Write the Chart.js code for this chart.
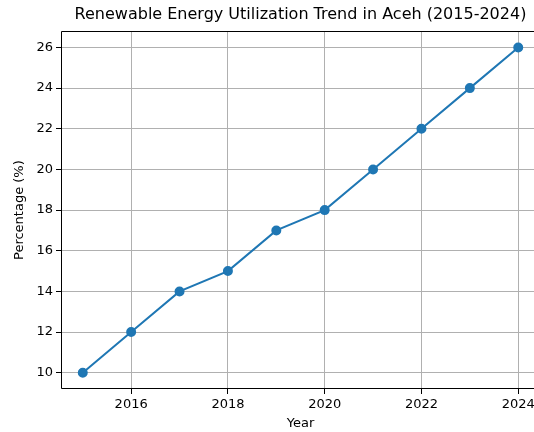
<!DOCTYPE html>
<html>
<head>
<meta charset="utf-8">
<script src="https://cdn.jsdelivr.net/npm/chart.js@4.4.0/dist/chart.umd.min.js"></script>
<style>
  html, body { margin: 0; padding: 0; overflow: hidden; background: #fff; }
  #wrap { width: 534px; height: 432px; }
</style>
</head>
<body>
<div id="wrap"><canvas id="chart" width="534" height="432"></canvas></div>
<script>
// data
const years = [2015, 2016, 2017, 2018, 2019, 2020, 2021, 2022, 2023, 2024];
const percentages = [10, 12, 14, 15, 17, 18, 20, 22, 24, 26];
const xTickValues = [2016, 2018, 2020, 2022, 2024];
const yTickValues = [10, 12, 14, 16, 18, 20, 22, 24, 26];

const titleText = 'Renewable Energy Utilization Trend in Aceh (2015-2024)';
const FONT = "'DejaVu Sans', sans-serif";
const AXES_RIGHT = 540; // the axes run past the right edge of the picture

// stretch the plot area past the canvas edge, like the cropped original
const stretch = {
  id: 'stretch',
  afterLayout(chart) {
    const x = chart.scales.x;
    chart.chartArea.right = AXES_RIGHT;
    chart.chartArea.width = AXES_RIGHT - chart.chartArea.left;
    x.right = AXES_RIGHT;
    x.width = x.right - x.left;
    x.configure();
    if (chart.titleBlock) {
      chart.titleBlock.left = chart.chartArea.left;
      chart.titleBlock.right = AXES_RIGHT;
      chart.titleBlock.width = AXES_RIGHT - chart.chartArea.left;
    }
  }
};

// matplotlib-like spines (the right one falls outside the picture)
const frame = {
  id: 'frame',
  afterDatasetsDraw(chart) {
    const { ctx, chartArea: a } = chart;
    const l = Math.round(a.left) + 0.5, t = Math.round(a.top) + 0.5, b = Math.round(a.bottom) - 0.5;
    ctx.save();
    ctx.strokeStyle = '#000';
    ctx.lineWidth = 1;
    ctx.beginPath();
    ctx.moveTo(AXES_RIGHT, t);
    ctx.lineTo(l, t);
    ctx.lineTo(l, b);
    ctx.lineTo(AXES_RIGHT, b);
    ctx.stroke();
    ctx.restore();
  }
};

new Chart(document.getElementById('chart'), {
  type: 'line',
  data: {
    datasets: [{
      data: years.map((y, i) => ({ x: y, y: percentages[i] })),
      borderColor: '#1f77b4',
      backgroundColor: '#1f77b4',
      borderWidth: 2,
      pointRadius: 4,
      pointHoverRadius: 4,
      tension: 0
    }]
  },
  options: {
    responsive: false,
    animation: false,
    events: [],
    layout: { padding: 0 },
    plugins: {
      legend: { display: false },
      tooltip: { enabled: false },
      title: {
        display: true,
        text: titleText,
        fullSize: false,
        color: '#000',
        font: { family: FONT, size: 16, weight: 'normal' },
        padding: { top: 5, bottom: 7 }
      }
    },
    scales: {
      x: {
        type: 'linear',
        min: 2014.55,
        max: 2024.45,
        afterBuildTicks: s => { s.ticks = xTickValues.map(v => ({ value: v })); },
        afterFit: s => { s.height = 43; },
        ticks: {
          color: '#000',
          font: { family: FONT, size: 13 },
          padding: 3,
          maxRotation: 0,
          autoSkip: false,
          callback: v => String(v)
        },
        grid: { color: '#b0b0b0', tickColor: '#000', tickLength: 5, lineWidth: 1 },
        border: { display: false },
        title: {
          display: true,
          text: 'Year',
          color: '#000',
          font: { family: FONT, size: 13 },
          padding: { top: 0, bottom: 1 }
        }
      },
      y: {
        min: 9.2,
        max: 26.8,
        afterBuildTicks: s => { s.ticks = yTickValues.map(v => ({ value: v })); },
        afterFit: s => { s.width = 61; },
        ticks: {
          color: '#000',
          font: { family: FONT, size: 13 },
          padding: 3,
          autoSkip: false,
          callback: v => String(v)
        },
        grid: { color: '#b0b0b0', tickColor: '#000', tickLength: 5, lineWidth: 1 },
        border: { display: false },
        title: {
          display: true,
          text: 'Percentage (%)',
          color: '#000',
          font: { family: FONT, size: 13 },
          padding: { top: 12, bottom: 0 }
        }
      }
    }
  },
  plugins: [stretch, frame]
});
</script>
</body>
</html>
